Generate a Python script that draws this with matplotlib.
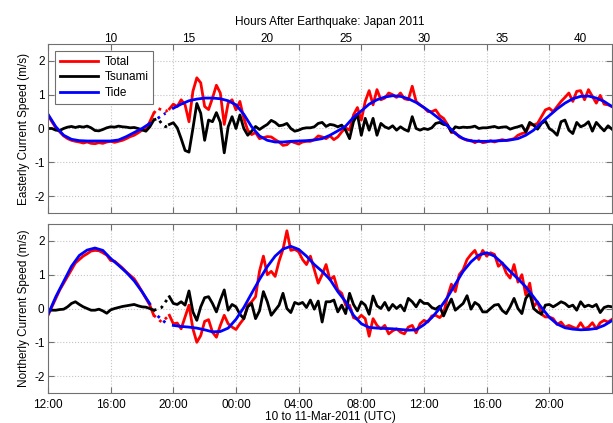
import numpy as np
import matplotlib
matplotlib.use("Agg")
from matplotlib import pyplot

pyplot.rcParams['font.family'] = ['Liberation Sans', 'DejaVu Sans']
pyplot.rcParams['axes.unicode_minus'] = False

# Time in hours since 12:00 UTC 10-Mar-2011
t_obs = np.arange(0, 36.01, 0.25)   # current meter samples
t_tide = np.arange(0, 36.01, 0.5)   # tidal prediction
quake_offset = 6.0                  # hours after earthquake at t = 0

time_ticks = [0, 4, 8, 12, 16, 20, 24, 28, 32]
time_labels = ["12:00", "16:00", "20:00", "00:00", "04:00",
               "08:00", "12:00", "16:00", "20:00"]
hour_ticks = [10, 15, 20, 25, 30, 35, 40]
speed_ticks = [-2, -1, 0, 1, 2]

# Easterly component (m/s)
total_e = [0.40, 0.20, 0.02, -0.10, -0.22, -0.30, -0.35, -0.38,
           -0.40, -0.43, -0.40, -0.44, -0.45, -0.42, -0.44, -0.40,
           -0.38, -0.41, -0.38, -0.35, -0.30, -0.24, -0.20, -0.13,
           -0.05, -0.02, 0.20, 0.45, 0.60, 0.55, 0.50, 0.58,
           0.72, 0.65, 0.85, 0.70, 0.20, 1.10, 1.50, 1.35,
           0.65, 0.56, 0.90, 1.28, 1.05, 0.12, 0.75, 0.85,
           0.55, 0.80, 0.30, -0.05, -0.18, -0.12, -0.30, -0.27,
           -0.24, -0.25, -0.33, -0.40, -0.50, -0.48, -0.38, -0.42,
           -0.46, -0.40, -0.38, -0.38, -0.33, -0.22, -0.25, -0.30,
           -0.22, -0.33, -0.25, -0.10, 0.02, -0.05, 0.40, 0.62,
           0.25, 0.80, 1.12, 0.70, 1.15, 0.85, 0.90, 1.05,
           1.00, 0.92, 1.05, 0.88, 0.85, 1.25, 0.80, 0.70,
           0.62, 0.50, 0.50, 0.55, 0.38, 0.30, 0.12, -0.12,
           -0.12, -0.25, -0.30, -0.35, -0.35, -0.42, -0.36, -0.42,
           -0.40, -0.36, -0.40, -0.36, -0.33, -0.36, -0.33, -0.30,
           -0.20, -0.15, -0.12, 0.12, 0.10, 0.15, 0.35, 0.55,
           0.60, 0.50, 0.65, 0.80, 0.92, 1.05, 0.80, 1.10,
           1.12, 0.85, 1.15, 0.95, 0.75, 0.98, 0.72, 0.70,
           0.65]
tsunami_e = [0.00, 0.00, -0.05, -0.06, 0.00, 0.04, 0.06, 0.03,
             0.06, 0.04, 0.07, 0.02, -0.06, -0.07, -0.03, 0.02,
             0.05, 0.04, 0.07, 0.05, 0.04, 0.02, 0.03, 0.00,
             -0.04, -0.08, 0.05, 0.25, 0.30, 0.15, 0.05, 0.12,
             0.17, 0.02, -0.30, -0.65, -0.70, 0.00, 0.74, 0.45,
             -0.35, 0.25, 0.20, 0.47, 0.18, -0.72, 0.05, 0.35,
             0.00, 0.40, 0.00, -0.20, -0.08, 0.06, -0.03, 0.05,
             0.12, 0.24, 0.18, 0.08, 0.10, 0.15, 0.00, -0.08,
             -0.05, 0.00, 0.02, 0.02, 0.05, 0.15, 0.18, 0.06,
             0.12, 0.10, 0.05, 0.10, -0.05, -0.30, 0.20, 0.42,
             -0.20, 0.30, -0.05, 0.30, -0.20, 0.15, 0.05, 0.00,
             0.08, -0.05, 0.05, -0.03, -0.08, 0.35, 0.00, -0.05,
             0.00, -0.03, 0.02, 0.15, 0.18, 0.12, 0.10, -0.10,
             0.05, 0.02, 0.04, 0.03, 0.04, 0.07, 0.00, 0.02,
             0.02, 0.04, 0.06, 0.02, 0.04, 0.05, -0.02, 0.02,
             0.05, 0.09, -0.10, 0.18, 0.10, -0.02, 0.15, 0.22,
             0.00, -0.08, -0.20, 0.20, 0.25, -0.05, -0.15, 0.18,
             0.05, 0.10, 0.20, -0.08, 0.18, 0.05, -0.07, 0.08,
             -0.02]
tide_e = [0.42, 0.05, -0.20, -0.32,
          -0.36, -0.37, -0.37, -0.37,
          -0.37, -0.34, -0.24, -0.12,
          0.00, 0.15, 0.30, 0.45,
          0.60, 0.72, 0.82, 0.87,
          0.90, 0.90, 0.88, 0.82,
          0.70, 0.42, 0.05, -0.22,
          -0.35, -0.40, -0.40, -0.38,
          -0.37, -0.36, -0.34, -0.30,
          -0.20, -0.07, 0.07, 0.33,
          0.52, 0.72, 0.85, 0.93,
          0.97, 0.95, 0.88, 0.77,
          0.62, 0.46, 0.28, 0.08,
          -0.15, -0.30, -0.37, -0.38,
          -0.38, -0.37, -0.36, -0.34,
          -0.30, -0.20, -0.05, 0.18,
          0.38, 0.58, 0.75, 0.88,
          0.95, 0.96, 0.90, 0.80,
          0.65]

# Northerly component (m/s)
total_n = [-0.20, 0.05, 0.30, 0.55, 0.75, 0.95, 1.15, 1.35,
           1.45, 1.55, 1.62, 1.70, 1.72, 1.71, 1.65, 1.58,
           1.42, 1.40, 1.30, 1.20, 1.08, 0.98, 0.88, 0.70,
           0.50, 0.30, 0.10, -0.20, -0.30, -0.40, -0.30, -0.20,
           -0.45, -0.43, -0.60, -0.25, 0.10, -0.60, -1.00, -0.80,
           -0.38, -0.33, -0.70, -0.85, -0.50, -0.20, -0.45, -0.55,
           -0.62, -0.45, -0.30, 0.10, 0.20, 0.35, 1.10, 1.55,
           1.00, 1.10, 0.95, 1.40, 1.75, 2.30, 1.72, 1.75,
           1.68, 1.45, 1.30, 1.55, 1.15, 0.75, 1.00, 1.30,
           0.85, 0.95, 0.55, 0.45, 0.10, 0.10, -0.27, -0.32,
           -0.20, -0.30, -0.82, -0.30, -0.50, -0.60, -0.50, -0.75,
           -0.66, -0.60, -0.70, -0.75, -0.55, -0.50, -0.72, -0.45,
           -0.35, -0.40, -0.22, -0.20, -0.27, -0.15, 0.35, 0.72,
           0.50, 1.00, 1.15, 1.45, 1.60, 1.72, 1.45, 1.72,
           1.55, 1.65, 1.60, 1.25, 1.35, 1.05, 0.90, 1.30,
           0.78, 1.00, 0.40, 0.75, 0.05, 0.20, -0.17, -0.25,
           -0.25, -0.30, -0.47, -0.40, -0.55, -0.50, -0.55, -0.60,
           -0.42, -0.60, -0.55, -0.42, -0.60, -0.42, -0.35, -0.40,
           -0.32]
tsunami_n = [-0.05, -0.05, -0.05, -0.03, -0.02, 0.05, 0.15, 0.20,
             0.12, 0.05, 0.00, -0.05, -0.05, -0.02, -0.07, -0.14,
             -0.04, 0.00, 0.03, 0.06, 0.08, 0.10, 0.12, 0.08,
             0.05, 0.04, 0.00, -0.05, -0.02, 0.03, 0.20, 0.35,
             0.15, 0.12, 0.20, 0.10, 0.52, -0.10, -0.35, 0.05,
             0.32, 0.35, 0.15, -0.10, 0.25, 0.55, -0.05, 0.12,
             0.05, -0.17, -0.30, 0.05, 0.15, -0.30, -0.07, 0.50,
             0.20, -0.20, -0.05, 0.10, 0.45, 0.00, -0.12, 0.18,
             0.13, 0.18, 0.03, 0.25, -0.02, 0.22, -0.40, 0.20,
             0.20, 0.25, -0.10, 0.10, -0.15, 0.45, 0.12, -0.07,
             0.20, 0.10, -0.17, 0.37, 0.08, 0.00, 0.18, -0.05,
             0.12, 0.00, 0.10, -0.07, 0.30, 0.20, 0.05, 0.25,
             0.15, 0.15, 0.03, -0.02, 0.07, -0.22, 0.05, 0.28,
             -0.05, 0.05, 0.15, 0.38, -0.02, 0.18, 0.10, -0.10,
             -0.10, 0.00, 0.10, 0.12, -0.06, -0.15, 0.05, 0.30,
             0.00, -0.15, 0.30, 0.45, 0.00, -0.10, -0.17, 0.10,
             0.12, 0.05, 0.12, 0.20, 0.15, 0.05, 0.10, -0.05,
             0.20, 0.05, 0.10, 0.05, 0.12, -0.12, 0.03, 0.07,
             0.05]
tide_n = [-0.18, 0.35, 0.80, 1.25,
          1.57, 1.73, 1.79, 1.72,
          1.48, 1.28, 1.07, 0.82,
          0.50, 0.14, -0.22, -0.42,
          -0.50, -0.53, -0.55, -0.58,
          -0.63, -0.69, -0.68, -0.58,
          -0.32, 0.03, 0.45, 0.86,
          1.24, 1.55, 1.76, 1.84,
          1.75, 1.55, 1.30, 1.10,
          0.86, 0.50, 0.20, -0.20,
          -0.45, -0.56, -0.58, -0.59,
          -0.60, -0.62, -0.64, -0.63,
          -0.48, -0.27, 0.00, 0.33,
          0.72, 1.10, 1.38, 1.58,
          1.65, 1.55, 1.34, 1.10,
          0.88, 0.64, 0.34, 0.03,
          -0.26, -0.46, -0.57, -0.61,
          -0.63, -0.62, -0.59, -0.50,
          -0.36]

gap = (6.75, 7.75)  # stretch with sparse samples, drawn dotted
axis_grey = '#707070'
fs = 8.5


def draw(ax, total, tsunami, tide):
    lines = []
    for t, y, c, name in ((t_obs, total, 'r', 'Total'),
                          (t_obs, tsunami, 'k', 'Tsunami'),
                          (t_tide, tide, 'b', 'Tide')):
        y = np.asarray(y, dtype=float)
        inside = (t >= gap[0]) & (t <= gap[1])
        strict = (t > gap[0]) & (t < gap[1])
        ln, = ax.plot(t, np.where(strict, np.nan, y), color=c, lw=2.0,
                      label=name, solid_joinstyle='round')
        ax.plot(t, np.where(inside, y, np.nan), color=c, lw=2.0, ls=':')
        lines.append(ln)
    ax.set_xlim(0, 36)
    ax.set_ylim(-2.5, 2.5)
    ax.set_xticks(time_ticks)
    ax.set_yticks(speed_ticks)
    ax.grid(True, ls=':', color='#c4c4c4', lw=0.8)
    ax.tick_params(direction='in', top=True, right=True, length=4,
                   color=axis_grey, labelsize=fs)
    ax.tick_params(axis='x', pad=4)
    ax.tick_params(axis='y', pad=2.5)
    for s in ax.spines.values():
        s.set_color(axis_grey)
    return lines


fig = pyplot.figure(figsize=(6.13, 4.23), dpi=100)
ax1 = fig.add_axes([0.0783, 0.4965, 0.920, 0.3995])
ax2 = fig.add_axes([0.0783, 0.0709, 0.920, 0.3995])

lines = draw(ax1, total_e, tsunami_e, tide_e)
draw(ax2, total_n, tsunami_n, tide_n)

ax1.set_xticklabels([])
ax1.set_ylabel("Easterly Current Speed (m/s)", fontsize=fs, labelpad=3)
ax2.set_ylabel("Northerly Current Speed (m/s)", fontsize=fs, labelpad=3)
ax2.set_xticklabels(time_labels)
ax2.set_xlabel("10 to 11-Mar-2011 (UTC)", fontsize=fs, labelpad=0.5)

# Hours after the earthquake along the top
sec = ax1.secondary_xaxis('top', functions=(lambda x: x + quake_offset,
                                            lambda x: x - quake_offset))
sec.set_xticks(hour_ticks)
sec.tick_params(length=0, labelsize=fs, pad=-1)
sec.spines['top'].set_visible(False)
sec.set_xlabel("Hours After Earthquake: Japan 2011", fontsize=fs, labelpad=6)

leg = ax1.legend(handles=lines, loc='upper left', fontsize=fs,
                 fancybox=False, framealpha=1, edgecolor=axis_grey,
                 handlelength=3.2, labelspacing=0.3, handletextpad=0.6,
                 borderaxespad=0.6)
leg.get_frame().set_linewidth(0.8)

fig.savefig("out.png", dpi=100)
